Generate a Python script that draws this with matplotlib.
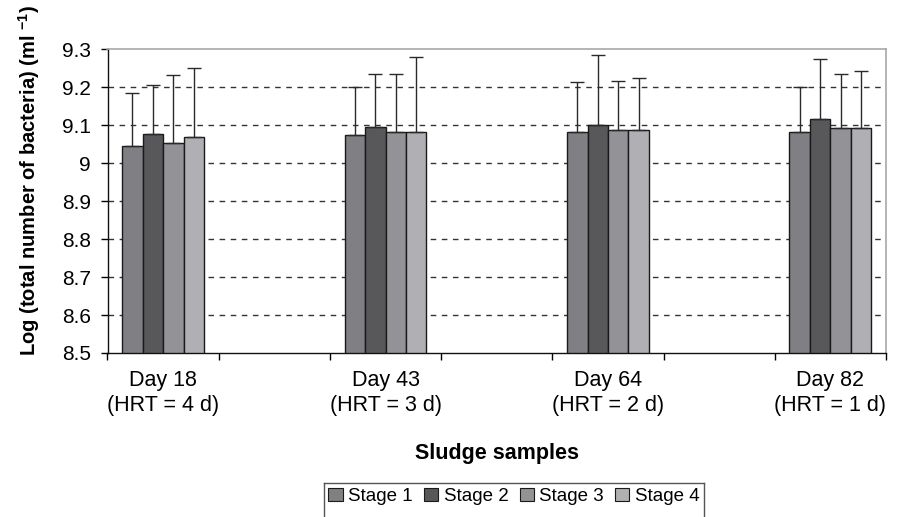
import matplotlib
matplotlib.use("Agg")
import matplotlib.pyplot as plt
import numpy as np
from matplotlib.patches import Patch
from matplotlib.lines import Line2D

plt.rcParams['font.family'] = ['Liberation Sans', 'DejaVu Sans']
plt.rcParams['mathtext.fontset'] = 'custom'
plt.rcParams['mathtext.rm'] = 'Liberation Sans'
plt.rcParams['mathtext.bf'] = 'Liberation Sans:bold'

categories = ["Day 18\n(HRT = 4 d)", "Day 43\n(HRT = 3 d)", "Day 64\n(HRT = 2 d)", "Day 82\n(HRT = 1 d)"]
series = ["Stage 1", "Stage 2", "Stage 3", "Stage 4"]
stage1 = [9.044, 9.073, 9.081, 9.081]
stage2 = [9.077, 9.094, 9.101, 9.115]
stage3 = [9.052, 9.081, 9.086, 9.093]
stage4 = [9.068, 9.081, 9.086, 9.093]
err1 = [0.141, 0.128, 0.132, 0.120]
err2 = [0.129, 0.141, 0.182, 0.159]
err3 = [0.179, 0.154, 0.131, 0.142]
err4 = [0.183, 0.199, 0.139, 0.149]
colors = ["#7f7f84", "#58585b", "#939397", "#b0b0b4"]

values = [stage1, stage2, stage3, stage4]
errors = [err1, err2, err3, err4]

fig = plt.figure(figsize=(9.02, 5.17), dpi=100)
ax = fig.add_axes([107.5/902, 1-353/517, (886-107.5)/902, (353-49)/517])

group_x = np.arange(len(categories)) * 2
bw = 0.184
for i, (vals, errs, c) in enumerate(zip(values, errors, colors)):
    x = group_x + (i - 1.5) * bw
    ax.bar(x, np.array(vals) - 8.5, bottom=8.5, width=bw, color=c,
           edgecolor="#1a1a1a", linewidth=1.0, zorder=3)
    ax.errorbar(x, vals, yerr=[np.zeros(len(errs)), errs], fmt='none',
                ecolor="#2a2a2a", elinewidth=1.0, capsize=5, capthick=1.0, zorder=4)

ax.set_ylim(8.5, 9.3)
ax.set_xlim(-0.5, 6.5)
ax.set_yticks(np.arange(8.5, 9.31, 0.1))
ax.set_yticklabels(["8.5", "8.6", "8.7", "8.8", "8.9", "9", "9.1", "9.2", "9.3"])
ax.set_xticks(group_x)
ax.set_xticklabels(categories, linespacing=1.25)
ax.set_xticks(np.arange(-0.5, 6.6, 1), minor=True)
ax.tick_params(axis='x', which='major', length=0, labelsize=15.5, pad=12)
ax.tick_params(axis='x', which='minor', length=5, direction='out', width=1)
ax.tick_params(axis='y', length=5, direction='out', width=1, labelsize=15, pad=7)

for yv in np.arange(8.6, 9.21, 0.1):
    ax.axhline(yv, color="#333333", linestyle=(0, (4, 4)), linewidth=1.0, zorder=1)

for s in ['top', 'right']:
    ax.spines[s].set_color("#a8a8a8")
    ax.spines[s].set_linewidth(1.2)
for s in ['left', 'bottom']:
    ax.spines[s].set_color("#111111")
    ax.spines[s].set_linewidth(1.0)

ax.set_ylabel("Log (total number of bacteria) (ml $^{\\mathbf{-1}}$)", fontsize=14.5,
              fontweight='bold')
ax.set_xlabel("Sludge samples", fontsize=15.5, fontweight='bold')
ax.xaxis.set_label_coords(0.5, -(454-353)/304, transform=ax.transAxes)
ax.xaxis.label.set_va('center')
ax.yaxis.set_label_coords(29/902, (1-180/517), transform=fig.transFigure)
ax.yaxis.label.set_va('center')

handles = [Patch(facecolor=c, edgecolor="#1a1a1a", linewidth=0.8) for c in colors]
leg = fig.legend(handles, series, loc='upper center', bbox_to_anchor=(514/902, 1-483/517),
                 ncol=4, frameon=False, fontsize=13.5, handlelength=0.75,
                 handleheight=0.75, handletextpad=0.3, columnspacing=0.6, borderpad=0.25,
                 borderaxespad=0)
fig.canvas.draw()
bb = leg.get_window_extent().transformed(fig.transFigure.inverted())
for xs, ys in [([bb.x0, bb.x1], [bb.y1, bb.y1]),
               ([bb.x0, bb.x0], [bb.y1, -0.01]),
               ([bb.x1, bb.x1], [bb.y1, -0.01])]:
    fig.add_artist(Line2D(xs, ys, transform=fig.transFigure, color="#555555", linewidth=1.0))

fig.savefig("out.png", dpi=100)
